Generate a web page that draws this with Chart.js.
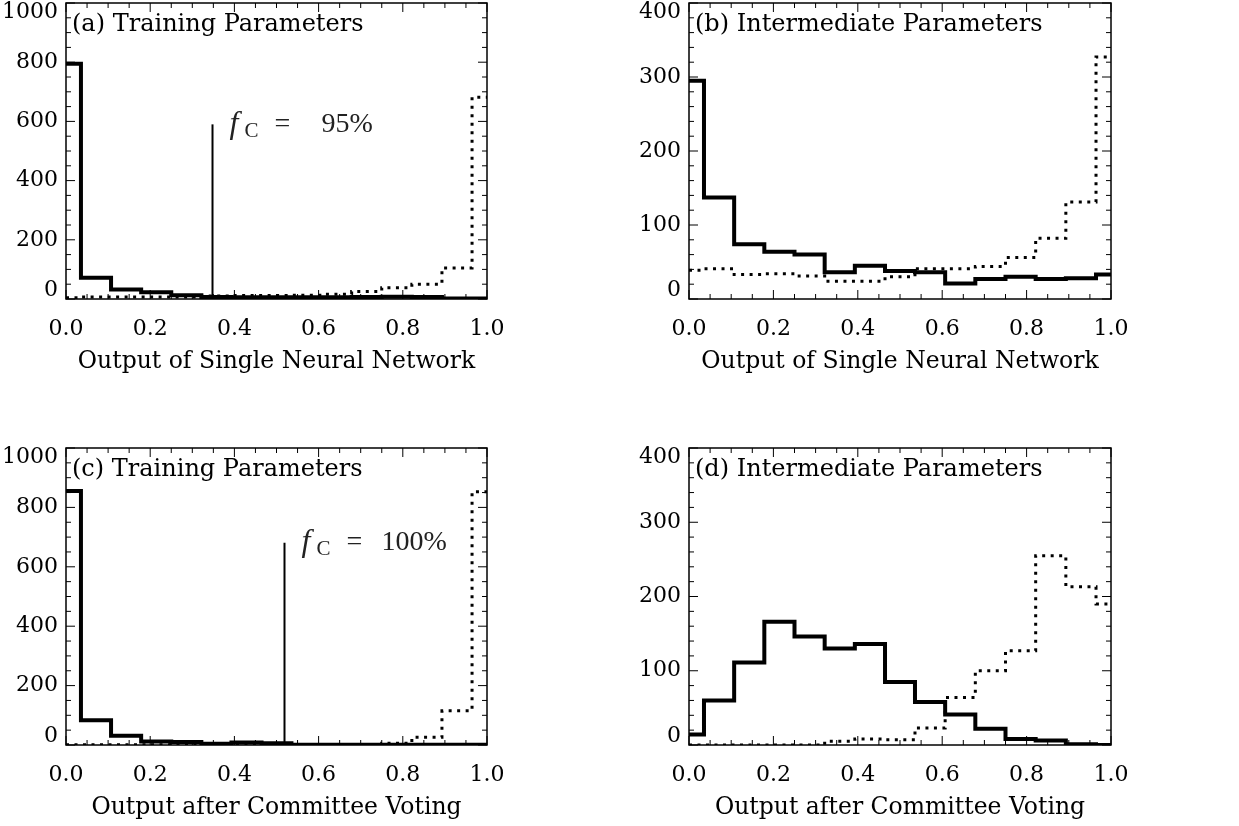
<!DOCTYPE html>
<html>
<head>
<meta charset="utf-8">
<script src="https://cdn.jsdelivr.net/npm/chart.js@4"></script>
<style>
  html, body { margin: 0; padding: 0; background: #fff; }
  body { width: 1239px; height: 826px; position: relative; overflow: hidden; }
  canvas { position: absolute; }
</style>
</head>
<body>
<canvas id="pa" width="620" height="380" style="left:0;top:0"></canvas>
<canvas id="pb" width="619" height="380" style="left:620px;top:0"></canvas>
<canvas id="pc" width="620" height="406" style="left:0;top:420px"></canvas>
<canvas id="pd" width="619" height="406" style="left:620px;top:420px"></canvas>
<script>
// bin centres (15 bins of width 1/14)
const binCenters = [0.000, 0.071, 0.143, 0.214, 0.286, 0.357, 0.429, 0.500, 0.571, 0.643, 0.714, 0.786, 0.857, 0.929, 1.000];

// (a) training parameters, single network
const trainSingleSolid  = [795, 72, 32, 23, 13, 7, 6, 6, 6, 6, 7, 8, 7, 2, 2];
const trainSingleDotted = [4, 7, 7, 7, 7, 10, 12, 12, 13, 16, 25, 38, 50, 105, 682];
// (b) intermediate parameters, single network
const interSingleSolid  = [295, 137, 74, 64, 60, 36, 45, 38, 36, 21, 27, 30, 27, 28, 33];
const interSingleDotted = [39, 41, 33, 34, 31, 24, 24, 30, 41, 41, 44, 56, 82, 131, 327];
// (c) training parameters, committee
const trainCommSolid  = [855, 83, 31, 12, 10, 4, 8, 6, 1, 1, 1, 1, 1, 1, 1];
const trainCommDotted = [1, 1, 1, 1, 1, 1, 1, 1, 1, 1, 2, 6, 26, 115, 853];
// (d) intermediate parameters, committee
const interCommSolid  = [14, 60, 111, 166, 146, 130, 136, 85, 58, 41, 22, 8, 6, 1, 0];
const interCommDotted = [0, 0, 0, 0, 0, 5, 8, 7, 23, 64, 100, 127, 255, 213, 190];

// cut lines (position, height)
const cutA = [0.348, 590];
const cutC = [0.519, 681];

const xTicks = [0, 0.2, 0.4, 0.6, 0.8, 1.0];
const yTicksTrain = [0, 200, 400, 600, 800, 1000];
const yTicksInter = [0, 100, 200, 300, 400];

const FONT = "'DejaVu Serif', serif";

const framePlugin = {
  id: 'frame',
  afterDraw(chart, args, opts) {
    const ctx = chart.ctx;
    const a = chart.chartArea;
    const xs = chart.scales.x, ys = chart.scales.y;
    ctx.save();
    ctx.strokeStyle = '#000';
    ctx.lineWidth = 1.5;
    ctx.strokeRect(a.left, a.top, a.right - a.left, a.bottom - a.top);
    ctx.lineWidth = 1;
    ctx.beginPath();
    // x ticks, every 0.05, major every 0.2
    for (let i = 0; i <= 20; i++) {
      const px = xs.getPixelForValue(i * 0.05);
      const len = i % 4 === 0 ? 9 : 5;
      ctx.moveTo(px, a.bottom); ctx.lineTo(px, a.bottom - len);
      ctx.moveTo(px, a.top); ctx.lineTo(px, a.top + len);
    }
    const n = Math.round(ys.max / opts.minorY);
    for (let i = 0; i <= n; i++) {
      const py = ys.getPixelForValue(i * opts.minorY);
      const len = i % opts.perMajor === 0 ? 9 : 5;
      ctx.moveTo(a.left, py); ctx.lineTo(a.left + len, py);
      ctx.moveTo(a.right, py); ctx.lineTo(a.right - len, py);
    }
    ctx.stroke();

    ctx.fillStyle = '#000';
    ctx.font = '24px ' + FONT;
    ctx.textBaseline = 'middle';
    ctx.textAlign = 'left';
    ctx.fillText(opts.title, a.left + 6, a.top + 22);

    if (opts.cut) {
      const fx = xs.getPixelForValue(opts.cut[0]) + 17;
      const fy = ys.getPixelForValue(opts.cut[1]);
      ctx.fillStyle = '#222';
      ctx.font = "italic 32px 'Liberation Serif', serif";
      ctx.fillText('f', fx, fy);
      ctx.font = "21px 'Liberation Serif', serif";
      ctx.fillText('C', fx + 15, fy + 7);
      ctx.font = "28px 'Liberation Serif', serif";
      ctx.fillText('=', fx + 45, fy);
      ctx.fillText(opts.fcText, fx + opts.fcDx, fy);
    }
    ctx.restore();
  }
};

function toPoints(ys) {
  return binCenters.map((x, i) => ({ x: x, y: ys[i] }));
}

function makePanel(id, p) {
  const datasets = [
    { data: toPoints(p.solid), borderColor: '#000', borderWidth: 4, stepped: 'middle',
      pointRadius: 0, borderCapStyle: 'butt', borderJoinStyle: 'miter' },
    { data: toPoints(p.dotted), borderColor: '#000', borderWidth: 3, stepped: 'middle',
      pointRadius: 0, borderDash: [3, 5.5], borderCapStyle: 'butt' }
  ];
  if (p.cut) {
    datasets.push({ data: [{ x: p.cut[0], y: 0 }, { x: p.cut[0], y: p.cut[1] }],
      borderColor: '#000', borderWidth: 2, pointRadius: 0 });
  }
  const yLast = p.yTicks.length - 1;
  new Chart(document.getElementById(id), {
    type: 'line',
    data: { datasets: datasets },
    options: {
      responsive: false,
      animation: false,
      events: [],
      layout: { padding: { top: p.top, right: p.right, left: 0, bottom: 0 } },
      plugins: {
        legend: { display: false },
        tooltip: { enabled: false },
        frame: { title: p.title, minorY: p.minorY, perMajor: p.perMajor,
                 cut: p.cut, fcText: p.fcText, fcDx: p.fcDx }
      },
      scales: {
        x: {
          type: 'linear', min: 0, max: 1,
          afterBuildTicks: s => { s.ticks = xTicks.map(v => ({ value: v })); },
          afterFit: s => { s.height = 81; s.paddingLeft = 0; s.paddingRight = 0; },
          grid: { display: false, drawTicks: false },
          border: { display: false },
          ticks: { color: '#000', font: { family: FONT, size: 22 }, padding: 17,
                   maxRotation: 0, autoSkip: false, callback: v => v.toFixed(1) },
          title: { display: true, text: p.xTitle, color: '#000',
                   font: { family: FONT, size: 23.5 }, padding: { top: 0, bottom: 4 } }
        },
        y: {
          type: 'linear', min: 0, max: p.yMax,
          afterBuildTicks: s => { s.ticks = p.yTicks.map(v => ({ value: v })); },
          afterFit: s => { s.width = p.yw; s.paddingTop = 0; s.paddingBottom = 0; },
          grid: { display: false, drawTicks: false },
          border: { display: false },
          ticks: {
            color: '#000', padding: 8,
            font: c => ({ family: FONT, size: 22,
              lineHeight: (c.index === 0 || c.index === yLast) ? 0.8 : 1.2 }),
            callback: (v, i) => i === 0 ? [String(v), ''] : (i === yLast ? ['', String(v)] : String(v))
          }
        }
      }
    },
    plugins: [framePlugin]
  });
}

makePanel('pa', { solid: trainSingleSolid, dotted: trainSingleDotted, yMax: 1000, yTicks: yTicksTrain,
  minorY: 50, perMajor: 4, top: 3, right: 133, yw: 66, title: '(a) Training Parameters',
  xTitle: 'Output of Single Neural Network', cut: cutA, fcText: '95%', fcDx: 92 });
makePanel('pb', { solid: interSingleSolid, dotted: interSingleDotted, yMax: 400, yTicks: yTicksInter,
  minorY: 20, perMajor: 5, top: 3, right: 128, yw: 69, title: '(b) Intermediate Parameters',
  xTitle: 'Output of Single Neural Network' });
makePanel('pc', { solid: trainCommSolid, dotted: trainCommDotted, yMax: 1000, yTicks: yTicksTrain,
  minorY: 50, perMajor: 4, top: 28, right: 133, yw: 66, title: '(c) Training Parameters',
  xTitle: 'Output after Committee Voting', cut: cutC, fcText: '100%', fcDx: 80 });
makePanel('pd', { solid: interCommSolid, dotted: interCommDotted, yMax: 400, yTicks: yTicksInter,
  minorY: 20, perMajor: 5, top: 28, right: 128, yw: 69, title: '(d) Intermediate Parameters',
  xTitle: 'Output after Committee Voting' });
</script>
</body>
</html>
